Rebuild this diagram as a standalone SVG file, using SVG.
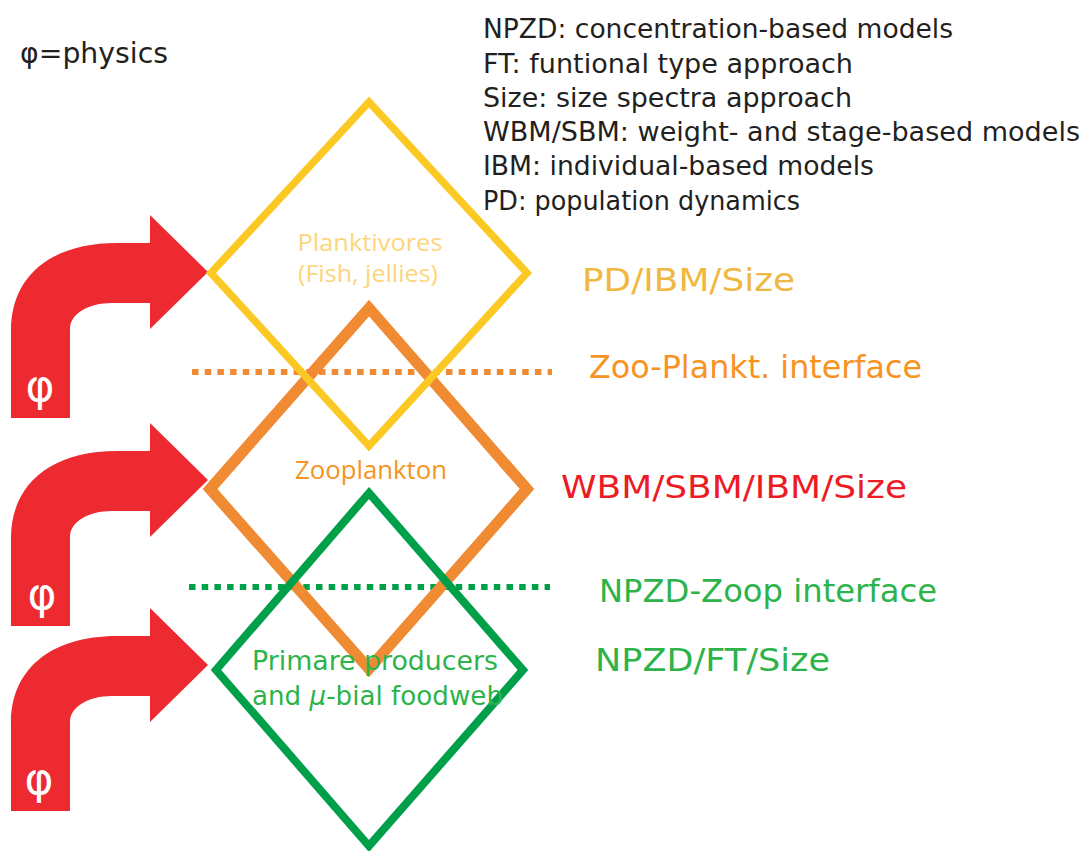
<svg xmlns="http://www.w3.org/2000/svg" xmlns:xlink="http://www.w3.org/1999/xlink" width="1083" height="851" viewBox="0 0 1083 851">
  <style>
    .hand { font-family: "DejaVu Sans", "Noto Sans", sans-serif; }
    .plain { font-family: "Open Sans", "Noto Sans", sans-serif; }
    .legend { font-size: 26px; fill: #231f20; }
    .tag { font-size: 32px; }
    .phi { font-size: 44px; fill: #ffffff; }
    .diamond { fill: none; stroke-linejoin: miter; }
    .dots { fill: none; stroke-width: 6; stroke-dasharray: 6.5 6.2; }
  </style>
  <defs>
    <!-- curved physics-forcing arrow, tip at (208,0) -->
    <path id="forcing" fill="#ec2a30" d="M11,146 L11,58 C11,5 50,-29 117,-29 L150,-29 L150,-57 L208,0 L150,57 L150,31 L112,31 C88,31 70,42 70,57 L70,146 Z"/>
  </defs>

  <rect width="1083" height="851" fill="#ffffff"/>

  <!-- key -->
  <text class="hand" x="20" y="63" font-size="29" fill="#231f20" textLength="148" lengthAdjust="spacingAndGlyphs">φ=physics</text>
  <g id="legend" class="hand legend">
    <text x="483" y="38" textLength="470" lengthAdjust="spacingAndGlyphs">NPZD: concentration-based models</text>
    <text x="483" y="73" textLength="370" lengthAdjust="spacingAndGlyphs">FT: funtional type approach</text>
    <text x="483" y="107" textLength="369" lengthAdjust="spacingAndGlyphs">Size: size spectra approach</text>
    <text x="483" y="141" textLength="597" lengthAdjust="spacingAndGlyphs">WBM/SBM: weight- and stage-based models</text>
    <text x="483" y="175" textLength="391" lengthAdjust="spacingAndGlyphs">IBM: individual-based models</text>
    <text x="483" y="210" textLength="317" lengthAdjust="spacingAndGlyphs">PD: population dynamics</text>
  </g>

  <!-- forcing arrows and interface lines -->
  <g id="connectors">
    <g id="arrow-plank" transform="translate(0,272)">
      <use xlink:href="#forcing"/>
      <text class="hand phi" x="40" y="129" text-anchor="middle">φ</text>
    </g>
    <g id="arrow-zoo" transform="translate(0,480)">
      <use xlink:href="#forcing"/>
      <text class="hand phi" x="42" y="129" text-anchor="middle">φ</text>
    </g>
    <g id="arrow-prim" transform="translate(0,665)">
      <use xlink:href="#forcing"/>
      <text class="hand phi" x="39" y="129" text-anchor="middle">φ</text>
    </g>
    <line id="zoo-plankt-line" class="dots" x1="192" y1="372" x2="552" y2="372" stroke="#f08a33"/>
    <line id="npzd-zoop-line" class="dots" x1="189" y1="587" x2="550" y2="587" stroke="#00a04b"/>
  </g>

  <!-- trophic levels -->
  <g id="zooplankton">
    <polygon class="diamond" points="369,308 527,489 369,669 210,489" stroke="#f08a33" stroke-width="11"/>
    <text class="plain" x="371" y="479" font-size="25.5" fill="#f7941d" text-anchor="middle" textLength="152" lengthAdjust="spacingAndGlyphs">Zooplankton</text>
  </g>
  <g id="planktivores">
    <polygon class="diamond" points="369,102 527,273 369,446 211,273" stroke="#fcc823" stroke-width="7.5"/>
    <text class="plain" x="370" y="251" font-size="24" fill="#fdd57a" text-anchor="middle" textLength="145" lengthAdjust="spacingAndGlyphs">Planktivores</text>
    <text class="plain" x="368" y="282" font-size="24" fill="#fdd57a" text-anchor="middle" textLength="140" lengthAdjust="spacingAndGlyphs">(Fish, jellies)</text>
  </g>
  <g id="primary">
    <polygon class="diamond" points="369,493 523,670 369,846 216,670" stroke="#00a04b" stroke-width="8"/>
    <text class="hand" x="252" y="670" font-size="26" fill="#2db34a" textLength="246" lengthAdjust="spacingAndGlyphs">Primare producers</text>
    <text class="hand" x="252" y="705" font-size="26" fill="#2db34a" textLength="251" lengthAdjust="spacingAndGlyphs">and <tspan font-style="italic">μ</tspan>-bial foodweb</text>
  </g>

  <!-- model classes per level -->
  <g id="labels" class="hand tag">
    <text x="582" y="291" fill="#f0b840" textLength="213" lengthAdjust="spacingAndGlyphs">PD/IBM/Size</text>
    <text x="589" y="378" fill="#f7931e" textLength="333" lengthAdjust="spacingAndGlyphs">Zoo-Plankt. interface</text>
    <text x="561" y="498" fill="#ed1c24" textLength="346" lengthAdjust="spacingAndGlyphs">WBM/SBM/IBM/Size</text>
    <text x="599" y="602" fill="#2db34a" textLength="338" lengthAdjust="spacingAndGlyphs">NPZD-Zoop interface</text>
    <text x="595" y="671" fill="#2db34a" textLength="235" lengthAdjust="spacingAndGlyphs">NPZD/FT/Size</text>
  </g>
</svg>
